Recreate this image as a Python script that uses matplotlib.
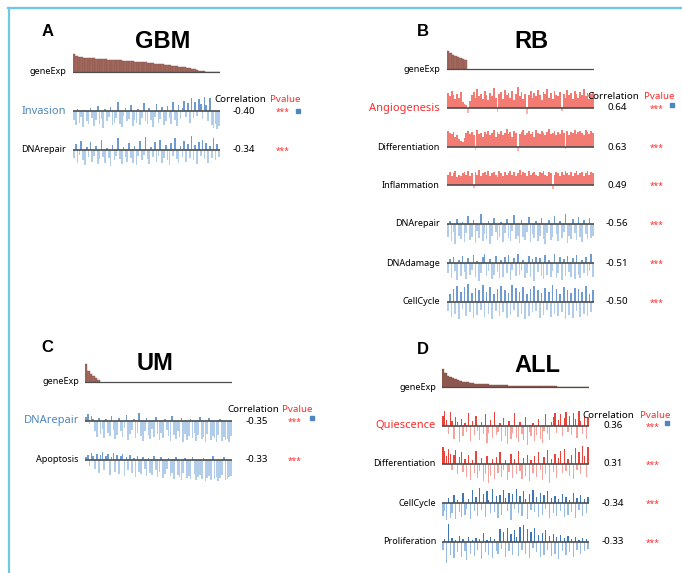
import matplotlib
matplotlib.use("Agg")
import matplotlib.pyplot as plt
from matplotlib.lines import Line2D

plt.rcParams['font.family'] = ['Noto Sans', 'DejaVu Sans']

W, H = 682, 573

# ---- data (bar heights, arbitrary score units) ----
gbm_exp = [100, 90, 85, 82, 80, 78, 77, 76, 75, 74, 73, 72, 71, 70, 69, 68, 67, 66, 65, 64,
           63, 62, 61, 60, 59, 58, 56, 55, 54, 53, 51, 50, 49, 47, 46, 44, 43, 41, 40, 38,
           36, 34, 32, 30, 28, 26, 23, 20, 17, 14, 11, 8, 5, 3, 1, 0, 0, 0, 0, 0]
rb_exp = [100, 88, 80, 74, 68, 63, 58, 52]
um_exp = [100, 62, 45, 33, 22, 10]
all_exp = [100, 80, 62, 55, 48, 42, 38, 33, 30, 27, 25, 22, 20, 19, 18, 17, 16, 15, 14, 13,
           12, 12, 11, 10, 10, 9, 9, 8, 8, 7, 7, 7, 6, 6, 6, 5, 5, 5, 4, 4,
           4, 4, 3, 3, 3, 3, 3, 2, 2, 2, 2, 2, 2, 1, 1, 1, 1, 1, 1, 1]

gbm_invasion = [-9, -13, 2, -11, -6, -15, 1, -10, -12, 3,
                -7, -14, -9, 5, -12, -8, -16, 2, -10, -6,
                4, -13, -11, -7, 9, -12, -15, -5, 3, -10,
                -8, 6, -14, -9, -11, 2, -13, -7, 8, -10,
                -12, 3, -9, -15, -6, 7, -11, -8, 4, -13,
                -10, 5, -7, -12, 9, -9, -14, 6, -8, 3,
                10, -6, 8, -11, 12, -7, 9, -5, 11, 7,
                -8, 13, 6, -10, 12, -13, -16, -12, -17, -14]
gbm_dnarepair = [-8, 6, -12, -5, 9, -10, -14, 3, -7, 8,
                 -11, -6, 4, -13, -9, 10, -7, -12, 2, -8,
                 -15, 5, -10, -6, 11, -9, -13, 3, -7, -11,
                 7, -8, -12, 4, -14, -6, 9, -10, -5, 12,
                 -9, -13, 3, -7, 8, -11, -6, 10, -12, -8,
                 5, -10, -14, 7, -6, 11, -9, -12, 4, -7,
                 9, -11, 6, -8, 13, -10, 5, -13, 8, -6,
                 10, -9, 7, -12, 4, -8, 11, -10, 6, -7]

rb_angiogenesis = [14, 11, 16, 12, 9, 13, 10, 15, 6, 4,
                   3, -5, 7, 12, 15, 10, 18, 11, 13, 9,
                   16, 12, 8, 14, 11, 19, 10, -4, 13, 15,
                   9, 17, 12, 14, 10, 16, 8, 13, 20, 11,
                   15, 9, 13, -6, 12, 16, 10, 14, 11, 17,
                   12, 8, 15, 13, 18, 10, 14, 9, 16, 12,
                   11, 15, -3, 13, 10, 17, 12, 14, 9, 16,
                   13, 10, 15, 12, 18, 11, 14, 9, 13, 15]
rb_differentiation = [15, 13, 12, 14, 10, 11, 8, 6, 5, 9,
                      13, 15, 12, 14, 11, -3, 16, 12, 13, 10,
                      14, 12, 15, 11, 13, 16, 10, 14, 12, 15,
                      11, 13, 17, 12, 14, 10, 15, 13, -4, 12,
                      14, 16, 11, 13, 15, 12, 14, 10, 16, 13,
                      12, 15, 13, 11, 14, 17, 12, 13, 15, 11,
                      14, 12, 16, 13, -2, 15, 11, 14, 13, 16,
                      12, 14, 15, 13, 11, 16, 14, 12, 15, 13]
rb_inflammation = [10, 12, 9, 11, 13, 8, 10, 9, 11, 12,
                   10, 13, 9, 11, -3, 12, 10, 14, 9, 11,
                   12, 10, 13, 9, 11, 12, 10, 8, 13, 11,
                   9, 12, 10, 11, 13, 10, 12, 9, 11, 14,
                   10, 12, 11, 9, 13, 10, 11, 12, 10, 9,
                   12, 11, 13, 10, 9, 12, 11, -4, 10, 12,
                   11, 9, 12, 10, 13, 11, 10, 12, 9, 11,
                   13, 10, 11, 12, 9, 11, 13, 10, 12, 11]
rb_dnarepair = [-12, 3, -16, -8, -19, 5, -11, -14, 2, -17,
                -9, 8, -15, -12, 4, -18, -7, -13, 10, -16,
                -10, -14, 3, -19, -11, 6, -8, -15, -12, 2,
                -17, -9, 5, -13, -16, -7, 9, -14, -11, -18,
                4, -12, -15, -8, 7, -17, -10, -13, 3, -16,
                -11, 6, -14, -19, -9, 4, -15, -12, 8, -10,
                -16, 3, -13, -8, 10, -18, -11, -14, 5, -9,
                -15, 7, -12, -17, 4, -10, -14, 6, -13, -11]
rb_dnadamage = [-10, 4, -14, 6, -8, -16, 3, -12, 7, -9,
                -15, 5, -11, -7, 8, -13, 2, -17, -10, 6,
                9, -12, -8, 4, -15, -11, 7, -9, -14, 3,
                -13, 6, -10, 8, -16, -7, 5, -12, 9, -11,
                -8, 3, -14, -10, 7, -13, 4, -17, 6, -9,
                5, -12, -15, 8, -11, 3, -13, -8, 9, -14,
                -10, 6, -16, 4, -12, 7, -9, -13, 5, -15,
                8, -11, -14, 3, -10, 6, -12, -8, 9, -13]
rb_cellcycle = [-9, 8, -14, 12, -11, 15, -16, 10, -7, 14,
                -13, 17, -10, 9, -15, 13, -12, 11, -8, 16,
                -14, 10, -11, 14, -16, 8, -9, 12, -13, 15,
                -10, 11, -15, 9, -12, 16, -8, 13, -14, 10,
                -11, 14, -16, 8, -13, 12, -10, 15, -9, 11,
                -15, 9, -12, 13, -8, 10, -14, 16, -11, 12,
                -13, 8, -10, 14, -16, 11, -12, 9, -15, 13,
                -9, 12, -14, 10, -11, 15, -13, 8, -10, 11]

um_dnarepair = [4, 7, -3, 5, 2, -10, -15, 3, -12, -8,
                -16, 2, -11, -14, 5, -9, -17, -13, 3, -10,
                -15, -7, 6, -18, -12, -9, 2, -16, -11, 8,
                -14, -19, -10, 3, -13, -17, -8, -15, 4, -12,
                -18, -11, -16, 2, -9, -14, -19, 5, -13, -17,
                -10, -15, 3, -20, -12, -18, -14, 2, -16, -11,
                -19, -13, 4, -17, -15, -20, -12, 3, -18, -14,
                -16, -20, -13, 2, -19, -15, -18, -17, -20, -14]
um_apoptosis = [3, 5, -6, 7, 4, -9, 6, -12, 5, 8,
                -10, 4, 6, -14, 3, 7, -11, 5, -13, 4,
                6, -15, 3, -10, 5, -12, 2, -16, 4, -11,
                -13, 3, -9, -15, 2, -12, -14, 4, -10, -16,
                -11, 3, -17, -13, -9, 2, -15, -12, -18, 3,
                -14, -16, -19, -12, 2, -17, -15, -18, 3, -13,
                -19, -16, -14, -18, 2, -20, -17, -15, -19, 4,
                -18, -16, -20, -17, -14, 3, -19, -18, -16, -15]

all_quiescence = [10, 14, 6, -8, 13, 5, -12, 9, 4, -15,
                  7, -10, 3, -6, 12, -14, 5, -9, 10, -5,
                  -13, 4, -8, 11, -16, -7, 6, -11, 13, -9,
                  -6, 3, -14, 8, -10, -17, 5, -12, -7, 12,
                  -11, -15, 4, -8, -13, 9, -18, -6, -10, 3,
                  -14, -9, 7, -12, -16, -5, 11, -8, -13, 4,
                  9, 12, -7, 6, 11, -10, 8, 13, -6, 10,
                  -9, 12, 7, -11, 14, 5, -8, 10, -12, 8]
all_differentiation = [16, 12, 8, 14, 10, -6, 9, 13, -10, 7,
                       11, -8, 5, -12, 9, -15, 4, -9, 12, -13,
                       -7, 6, -16, -10, 8, -18, -11, 5, -14, 7,
                       -9, 11, -12, -6, 4, -15, -8, 10, -13, 5,
                       -10, 12, -7, -14, 6, -11, 9, -16, 4, -9,
                       8, -12, 11, -6, -15, 7, -10, 13, -18, 5,
                       -8, 10, -13, 6, 12, -9, 14, -7, 5, -11,
                       9, -14, 15, -6, 11, -10, 17, 8, -12, 16]
all_cellcycle = [-12, -8, -16, 5, -14, -10, 8, -15, 3, -9,
                 -13, 10, -11, -6, 4, -15, 12, -8, 6, -12,
                 14, -7, 9, -13, 11, 3, -10, 13, -9, 7,
                 -14, 8, -11, 12, 5, -8, 10, -16, 9, -6,
                 13, -10, 7, -12, 11, 4, -15, 9, -7, 12,
                 -9, 6, -13, 10, -11, 8, -6, 11, -14, 5,
                 -10, 7, -12, 4, -8, 9, -13, 6, -11, 3,
                 -9, 10, -14, 5, -7, 8, -12, 4, -10, 6]
all_proliferation = [-8, 3, -20, 17, -12, 4, -15, 2, -10, 6,
                     -14, 3, -9, -17, 5, -11, 2, -13, 4, -8,
                     3, -16, 9, -10, 2, -12, 5, -15, 3, -9,
                     -11, 12, -7, 10, -14, 13, -9, 8, -12, 11,
                     5, -13, 14, -8, 16, -11, 12, -15, 10, -6,
                     13, -10, 7, -14, 9, -12, 11, -8, 6, -13,
                     8, -11, 5, -16, 7, -9, 4, -12, 6, -10,
                     3, -14, 5, -8, 2, -11, 4, -9, 3, -7]

gbm_names = ['Invasion', 'DNArepair']
gbm_corr = ['-0.40', '-0.34']
rb_names = ['Angiogenesis', 'Differentiation', 'Inflammation', 'DNArepair', 'DNAdamage', 'CellCycle']
rb_corr = ['0.64', '0.63', '0.49', '-0.56', '-0.51', '-0.50']
um_names = ['DNArepair', 'Apoptosis']
um_corr = ['-0.35', '-0.33']
all_names = ['Quiescence', 'Differentiation', 'CellCycle', 'Proliferation']
all_corr = ['0.36', '0.31', '-0.34', '-0.33']

# ---- colours ----
BLUE_POS, BLUE_NEG = '#6e9bd0', '#b2cdea'
DBLUE_POS, DBLUE_NEG = '#3f77b6', '#98bce0'
SALMON_POS, SALMON_NEG = '#f27c74', '#f8b3ad'
RED_POS, RED_NEG = '#e8443c', '#f5a39d'
EXP_COL = '#a3695f'
BASE = '#4d4d4d'
LABEL_BLUE = '#4f86c0'
LABEL_RED = '#ff2a2a'
RED_SET = (SALMON_POS, RED_POS)

fig = plt.figure(figsize=(W / 100, H / 100), dpi=100)


def fx(x):
    return x / W


def fy(y):
    return 1 - y / H


def txt(x, y, s, **kw):
    fig.text(fx(x), fy(y), s, **kw)


def exp_track(x0, base, vals, color=EXP_COL, n=60):
    ax = fig.add_axes([fx(x0), fy(base + 22), 147 / W, 44 / H])
    ax.bar(range(len(vals)), vals, width=1.0, color=color, edgecolor='#8a544b', linewidth=0.3)
    ax.axhline(0, color=BASE, lw=0.9)
    ax.set_xlim(-0.5, n - 0.5)
    ax.set_ylim(-122, 122)
    ax.axis('off')


def track(x0, base, vals, pos, neg, width):
    ax = fig.add_axes([fx(x0), fy(base + 22), 147 / W, 44 / H])
    cols = [pos if v > 0 else neg for v in vals]
    ax.bar(range(len(vals)), vals, width=width, color=cols, linewidth=0)
    ax.axhline(0, color=BASE, lw=1.2)
    ax.set_xlim(-0.5, len(vals) - 0.5)
    ax.set_ylim(-21, 21)
    ax.axis('off')


def panel(letter, lx, ly, title, tx, ty, x0, exp_base, exp_vals, exp_color,
          bases, series, names, corrs, colors, widths, label_x, hx, cx, px_, sq):
    txt(lx, ly, letter, fontsize=12, fontweight='bold', family='Liberation Sans', ha='center', va='center')
    txt(tx, ty, title, fontsize=17, fontweight='bold', family='Liberation Sans', ha='center', va='center')
    exp_track(x0, exp_base, exp_vals, exp_color)
    txt(label_x, exp_base, 'geneExp', fontsize=6.5, ha='right', va='center')
    txt(hx, bases[0] - 11, 'Correlation', fontsize=7, ha='center', va='center')
    txt(px_, bases[0] - 11, 'Pvalue', fontsize=7, ha='center', va='center', color=LABEL_RED)
    rows = zip(bases, series, names, corrs, colors, widths)
    for i, (b, vals, name, c, (pc, nc), w) in enumerate(rows):
        track(x0, b, vals, pc, nc, w)
        if i == 0:
            lc = LABEL_RED if pc in RED_SET else LABEL_BLUE
            txt(label_x, b, name, fontsize=8, ha='right', va='center', color=lc)
            fig.add_artist(Line2D([fx(sq[0])], [fy(sq[1])], marker='s', ms=2.2,
                                  color=LABEL_BLUE, transform=fig.transFigure))
        else:
            txt(label_x, b, name, fontsize=6.5, ha='right', va='center')
        txt(cx, b, c, fontsize=7, ha='center', va='center')
        txt(px_ - 2, b + 1, '***', fontsize=6, ha='center', va='center', color=LABEL_RED)


panel('A', 48, 31, 'GBM', 163, 42, 73, 72, gbm_exp, EXP_COL,
      [111, 150], [gbm_invasion, gbm_dnarepair], gbm_names, gbm_corr,
      [(BLUE_POS, BLUE_NEG)] * 2, [0.9, 0.9], 66, 240, 244, 285, (298, 111))

panel('B', 423, 31, 'RB', 531, 42, 447, 69, rb_exp, EXP_COL,
      [108, 147, 185, 224, 263, 302],
      [rb_angiogenesis, rb_differentiation, rb_inflammation, rb_dnarepair, rb_dnadamage, rb_cellcycle],
      rb_names, rb_corr,
      [(SALMON_POS, SALMON_NEG)] * 3 + [(BLUE_POS, BLUE_NEG)] * 3, [1.0] * 3 + [0.9] * 3,
      440, 613, 617, 659, (672, 105))

panel('C', 47, 348, 'UM', 155, 363, 85, 382, um_exp, EXP_COL,
      [421, 460], [um_dnarepair, um_apoptosis], um_names, um_corr,
      [(BLUE_POS, BLUE_NEG)] * 2, [0.9, 0.9], 79, 253, 257, 297, (312, 418))

panel('D', 423, 349, 'ALL', 537, 365, 442, 387, all_exp, '#8e5a50',
      [426, 464, 503, 542], [all_quiescence, all_differentiation, all_cellcycle, all_proliferation],
      all_names, all_corr,
      [(RED_POS, RED_NEG)] * 2 + [(DBLUE_POS, DBLUE_NEG)] * 2, [0.7] * 4,
      436, 608, 613, 655, (667, 423))

# light blue frame on the left and top
fig.add_artist(Line2D([fx(8.5), fx(8.5)], [fy(8), 0], color='#6fc8e4', lw=1.6, transform=fig.transFigure))
fig.add_artist(Line2D([fx(8), 1], [fy(8), fy(8)], color='#6fc8e4', lw=1.6, transform=fig.transFigure))

fig.savefig('out.png', dpi=100)
